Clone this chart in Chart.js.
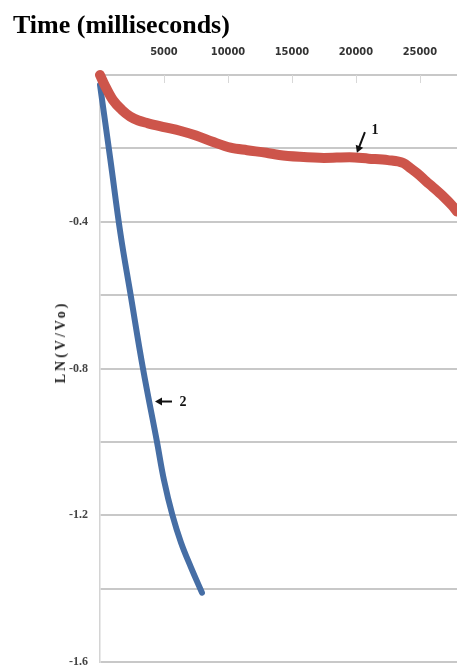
<!DOCTYPE html>
<html>
<head>
<meta charset="utf-8">
<script src="https://cdn.jsdelivr.net/npm/chart.js@4/dist/chart.umd.min.js"></script>
<style>
  body { margin: 0; background: #fff; }
  #wrap { position: relative; width: 457px; height: 665px; }
  #title { position: absolute; left: 13px; top: 12px; font: bold 26px/26px "Liberation Serif", serif; color: #000; white-space: nowrap; }
  #ytitle { position: absolute; left: 61px; top: 342px; transform: translate(-50%, -50%) rotate(-90deg); font: bold 14px "Liberation Serif", serif; letter-spacing: 3px; color: #222; white-space: nowrap; }
</style>
</head>
<body>
<div id="wrap">
  <canvas id="graph" width="457" height="665"></canvas>
  <div id="title">Time (milliseconds)</div>
  <div id="ytitle">LN(V/Vo)</div>
</div>
<script>
'use strict'

// curve 1 (red)
let timeA = [0, 400, 1000, 1700, 2350, 3000, 3700, 5000, 6250, 7500, 8800, 10200, 11500, 13000, 14000, 15600, 17500, 19500, 21000, 22500, 23700, 24300, 24800, 25500, 26000, 26800, 27500, 27900];
let lnA = [0, -0.03, -0.068, -0.095, -0.113, -0.124, -0.131, -0.142, -0.152, -0.165, -0.182, -0.198, -0.205, -0.212, -0.218, -0.223, -0.226, -0.224, -0.228, -0.232, -0.24, -0.255, -0.268, -0.29, -0.305, -0.33, -0.355, -0.372];

// curve 2 (blue)
let timeB = [0, 820, 1602, 2383, 3359, 4453, 5000, 5664, 6328, 7109, 7969];
let lnB = [-0.027, -0.233, -0.433, -0.597, -0.8, -1.0, -1.104, -1.2, -1.274, -1.342, -1.411];

let xTicks = [5000, 10000, 15000, 20000, 25000];
let yTicks = [-0.4, -0.8, -1.2, -1.6];

// arrow labels: [label, tailX, tailY, tipX, tipY, textX, textY]
let notes = [
    ['1', 20703, -0.156, 20078, -0.212, 21484, -0.152],
    ['2', 5625, -0.89, 4297, -0.89, 6484, -0.893]
];

function toPoints (xs, ys) {
    let pts = [];
    for (let i = 0; i < xs.length; i++) {
        pts.push({x: xs[i], y: ys[i]});
    }
    return pts;
}

let arrows = {
    id: 'arrows',
    afterDatasetsDraw (chart) {
        let ctx = chart.ctx;
        let sx = chart.scales.x;
        let sy = chart.scales.y;
        ctx.save();
        // little tick marks hanging under the top axis
        ctx.strokeStyle = '#d8d8d8';
        ctx.lineWidth = 1;
        for (let i = 0; i < xTicks.length; i++) {
            let px = Math.round(sx.getPixelForValue(xTicks[i])) + 0.5;
            ctx.beginPath();
            ctx.moveTo(px, chart.chartArea.top);
            ctx.lineTo(px, chart.chartArea.top + 8);
            ctx.stroke();
        }
        ctx.strokeStyle = '#111';
        ctx.fillStyle = '#111';
        ctx.lineWidth = 2;
        for (let i = 0; i < notes.length; i++) {
            let n = notes[i];
            let x1 = sx.getPixelForValue(n[1]), y1 = sy.getPixelForValue(n[2]);
            let x2 = sx.getPixelForValue(n[3]), y2 = sy.getPixelForValue(n[4]);
            let a = Math.atan2(y2 - y1, x2 - x1);
            ctx.beginPath();
            ctx.moveTo(x1, y1);
            ctx.lineTo(x2 - 4 * Math.cos(a), y2 - 4 * Math.sin(a));
            ctx.stroke();
            ctx.beginPath();
            ctx.moveTo(x2, y2);
            ctx.lineTo(x2 - 7 * Math.cos(a) + 4 * Math.sin(a), y2 - 7 * Math.sin(a) - 4 * Math.cos(a));
            ctx.lineTo(x2 - 7 * Math.cos(a) - 4 * Math.sin(a), y2 - 7 * Math.sin(a) + 4 * Math.cos(a));
            ctx.closePath();
            ctx.fill();
            ctx.font = 'bold 14px "Liberation Serif", serif';
            ctx.textAlign = 'center';
            ctx.textBaseline = 'middle';
            ctx.fillText(n[0], sx.getPixelForValue(n[5]), sy.getPixelForValue(n[6]));
        }
        ctx.restore();
    }
};

new Chart('graph', {
    type: 'line',
    data: {
        datasets: [{
            label: '1',
            data: toPoints(timeA, lnA),
            borderColor: '#cd554b',
            borderWidth: 10,
            cubicInterpolationMode: 'monotone',
            pointRadius: 0,
            borderCapStyle: 'round',
            borderJoinStyle: 'round',
            clip: 8
        }, {
            label: '2',
            data: toPoints(timeB, lnB),
            borderColor: '#466ea5',
            borderWidth: 6,
            tension: 0.4,
            pointRadius: 0,
            borderCapStyle: 'round',
            borderJoinStyle: 'round',
            clip: 8
        }]
    },
    options: {
        responsive: false,
        animation: false,
        layout: { padding: { top: 0, left: 0, right: 0, bottom: 3 } },
        plugins: {
            legend: { display: false },
            tooltip: { enabled: false },
            title: { display: false }
        },
        scales: {
            x: {
                type: 'linear',
                position: 'top',
                min: 0,
                max: 27900,
                afterBuildTicks: s => { s.ticks = [0].concat(xTicks).map(v => ({value: v})); },
                afterFit: s => { s.height = 75; s.paddingLeft = 0; s.paddingRight = 0; },
                grid: { display: false, drawTicks: false },
                border: { color: '#c8c8c8', width: 2 },
                ticks: {
                    padding: 16,
                    maxRotation: 0,
                    autoSkip: false,
                    color: '#333',
                    font: { family: '"Liberation Sans Narrow", "DejaVu Sans Condensed", sans-serif', size: 11, weight: 'bold' },
                    callback: v => xTicks.includes(v) ? String(v) : ''
                }
            },
            y: {
                type: 'linear',
                min: -1.6,
                max: 0,
                ticks: {
                    stepSize: 0.2,
                    padding: 12,
                    autoSkip: false,
                    color: '#444',
                    font: { family: '"Liberation Serif", serif', size: 12, weight: 'bold' },
                    callback: v => yTicks.some(t => Math.abs(t - v) < 1e-6) ? v.toFixed(1) : ''
                },
                afterFit: s => { s.width = 100; s.paddingTop = 0; s.paddingBottom = 0; },
                grid: { color: '#c8c8c8', lineWidth: 2, drawTicks: false },
                border: { color: '#d4d4d4', width: 1.5 }
            }
        }
    },
    plugins: [arrows]
});
</script>
</body>
</html>
